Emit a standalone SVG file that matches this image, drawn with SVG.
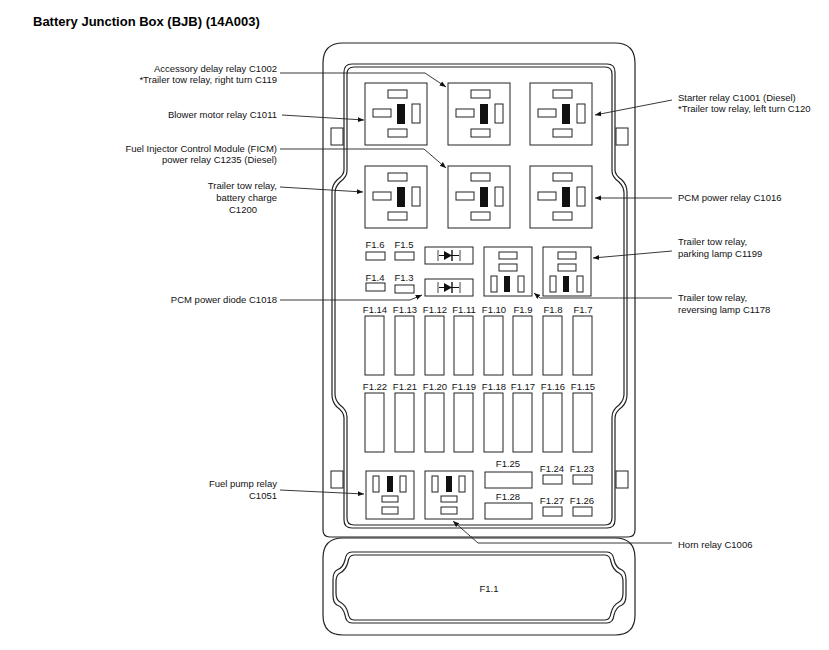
<svg xmlns="http://www.w3.org/2000/svg" width="829" height="650" viewBox="0 0 829 650">
<defs>
<style>
.l{font-family:"Liberation Sans",Arial,sans-serif;font-size:9.5px;fill:#111}
.f{font-family:"Liberation Sans",Arial,sans-serif;font-size:9.5px;fill:#111;text-anchor:middle}
.r{text-anchor:end}
.b{fill:#fff;stroke:#222;stroke-width:1}
.k{fill:#111}
.w{fill:none;stroke:#222;stroke-width:1.2}
.c{fill:none;stroke:#222;stroke-width:0.9;marker-end:url(#a)}
</style>
<marker id="a" viewBox="0 0 10 10" refX="10" refY="5" markerWidth="7" markerHeight="7" orient="auto"><path d="M0,1 L10,5 L0,9 z" fill="#111"/></marker>
<g id="relay">
<rect class="b" x="0" y="0" width="62" height="62"/>
<rect class="b" x="23" y="7" width="19" height="8"/>
<rect class="b" x="8" y="26" width="18" height="8"/>
<rect class="k" x="32" y="21" width="8" height="20"/>
<rect class="b" x="47" y="21" width="8" height="19"/>
<rect class="b" x="23" y="46" width="19" height="8"/>
</g>
<g id="srelay">
<rect class="b" x="0" y="0" width="48" height="49"/>
<rect class="b" x="15" y="5" width="18" height="7"/>
<rect class="b" x="15" y="17" width="18" height="7"/>
<rect class="b" x="7" y="29" width="6" height="16"/>
<rect class="k" x="20" y="29" width="6" height="16"/>
<rect class="b" x="34" y="29" width="6" height="16"/>
</g>
<g id="brelay">
<rect class="b" x="0" y="0" width="48" height="48"/>
<rect class="b" x="7" y="5" width="6" height="16"/>
<rect class="k" x="21" y="5" width="6" height="16"/>
<rect class="b" x="34" y="5" width="6" height="16"/>
<rect class="b" x="16" y="25" width="16" height="6"/>
<rect class="b" x="16" y="36" width="16" height="7"/>
</g>
<g id="diode">
<rect class="b" x="0" y="0" width="48" height="17"/>
<line x1="14" y1="8.5" x2="34" y2="8.5" stroke="#111"/>
<path d="M19,4 L27,8.5 L19,13 z" fill="#111"/>
<line x1="27" y1="3" x2="27" y2="14" stroke="#111" stroke-width="1.4"/>
<line x1="13" y1="3" x2="13" y2="14" stroke="#111" stroke-width="0.8"/>
<line x1="35" y1="3" x2="35" y2="14" stroke="#111" stroke-width="0.8"/>
</g>
</defs>
<rect width="829" height="650" fill="#fff"/>
<text x="33" y="26" font-family="Liberation Sans,Arial,sans-serif" font-size="13" font-weight="bold">Battery Junction Box (BJB) (14A003)</text>

<g id="housing">
<path class="w" d="M343,43 H615 Q635,43 635,63 V530 Q635,537 628,537 H330 Q323,537 323,530 V63 Q323,43 343,43 Z"/>
<path class="w" d="M352,64 H607 Q615,64 615,72 V170 Q615,175 622,180 Q627,185 627,192 V395 Q627,402 622,407 Q615,412 615,418 V520 Q615,528 607,528 H352 Q344,528 344,520 V418 Q344,412 337,407 Q332,402 332,395 V192 Q332,185 337,180 Q344,175 344,170 V72 Q344,64 352,64 Z"/>
<path class="w" d="M354,67 H605 Q612,67 612,74 V171 Q612,177 619,182 Q624,187 624,193 V394 Q624,400 619,405 Q612,410 612,417 V518 Q612,525 605,525 H354 Q347,525 347,518 V417 Q347,410 340,405 Q335,400 335,394 V193 Q335,187 340,182 Q347,177 347,171 V74 Q347,67 354,67 Z"/>
<rect class="b" x="331" y="128" width="12" height="17"/>
<rect class="b" x="616" y="128" width="12" height="17"/>
<rect class="b" x="331" y="471" width="12" height="17"/>
<rect class="b" x="616" y="471" width="12" height="17"/>
</g>

<g id="cover">
<path class="w" d="M343,538 H615 Q635,538 635,558 V615 Q635,635 615,635 H343 Q323,635 323,615 V558 Q323,538 343,538 Z"/>
<path class="w" d="M352,552 H607 Q613,552 614,560 Q616,568 622,570 Q626,572 626,580 V595 Q626,603 622,605 Q616,607 614,615 Q613,623 607,623 H352 Q346,623 345,615 Q343,607 337,605 Q333,603 333,595 V580 Q333,572 337,570 Q343,568 345,560 Q346,552 352,552 Z"/>
<path class="w" d="M354,555 H605 Q610,555 611,562 Q613,570 619,573 Q623,575 623,582 V593 Q623,600 619,602 Q613,605 611,613 Q610,620 605,620 H354 Q349,620 348,613 Q346,605 340,602 Q336,600 336,593 V582 Q336,575 340,573 Q346,570 348,562 Q349,555 354,555 Z"/>
<text class="f" x="489" y="592">F1.1</text>
</g>

<g id="relays">
<use href="#relay" x="365" y="83"/>
<use href="#relay" x="448" y="83"/>
<use href="#relay" x="530" y="83"/>
<use href="#relay" x="365" y="166"/>
<use href="#relay" x="448" y="166"/>
<use href="#relay" x="530" y="166"/>
<use href="#srelay" x="484" y="247"/>
<use href="#srelay" x="543" y="247"/>
<use href="#brelay" x="366" y="471"/>
<use href="#brelay" x="425" y="471"/>
<use href="#diode" x="425" y="247"/>
<use href="#diode" x="425" y="279"/>
</g>

<g id="smallfuses">
<text class="f" x="375" y="248">F1.6</text><rect class="b" x="366" y="252" width="19" height="8"/>
<text class="f" x="404" y="248">F1.5</text><rect class="b" x="395" y="252" width="19" height="8"/>
<text class="f" x="375" y="281">F1.4</text><rect class="b" x="366" y="283" width="19" height="8"/>
<text class="f" x="404" y="281">F1.3</text><rect class="b" x="395" y="285" width="19" height="8"/>
<text class="f" x="508" y="467">F1.25</text><rect class="b" x="485" y="472" width="47" height="16"/>
<text class="f" x="508" y="500">F1.28</text><rect class="b" x="485" y="503" width="47" height="16"/>
<text class="f" x="552" y="472">F1.24</text><rect class="b" x="543" y="475" width="19" height="9"/>
<text class="f" x="582" y="472">F1.23</text><rect class="b" x="573" y="475" width="19" height="9"/>
<text class="f" x="552" y="504">F1.27</text><rect class="b" x="543" y="507" width="19" height="9"/>
<text class="f" x="582" y="504">F1.26</text><rect class="b" x="573" y="507" width="19" height="9"/>
</g>

<g id="fuses">
<text class="f" x="375" y="313">F1.14</text><rect class="b" x="365" y="316" width="19" height="59"/>
<text class="f" x="405" y="313">F1.13</text><rect class="b" x="395" y="316" width="19" height="59"/>
<text class="f" x="435" y="313">F1.12</text><rect class="b" x="425" y="316" width="19" height="59"/>
<text class="f" x="464" y="313">F1.11</text><rect class="b" x="454" y="316" width="19" height="59"/>
<text class="f" x="494" y="313">F1.10</text><rect class="b" x="484" y="316" width="19" height="59"/>
<text class="f" x="523" y="313">F1.9</text><rect class="b" x="513" y="316" width="19" height="59"/>
<text class="f" x="553" y="313">F1.8</text><rect class="b" x="543" y="316" width="19" height="59"/>
<text class="f" x="583" y="313">F1.7</text><rect class="b" x="573" y="316" width="19" height="59"/>
<text class="f" x="375" y="390">F1.22</text><rect class="b" x="365" y="393" width="19" height="59"/>
<text class="f" x="405" y="390">F1.21</text><rect class="b" x="395" y="393" width="19" height="59"/>
<text class="f" x="435" y="390">F1.20</text><rect class="b" x="425" y="393" width="19" height="59"/>
<text class="f" x="464" y="390">F1.19</text><rect class="b" x="454" y="393" width="19" height="59"/>
<text class="f" x="494" y="390">F1.18</text><rect class="b" x="484" y="393" width="19" height="59"/>
<text class="f" x="523" y="390">F1.17</text><rect class="b" x="513" y="393" width="19" height="59"/>
<text class="f" x="553" y="390">F1.16</text><rect class="b" x="543" y="393" width="19" height="59"/>
<text class="f" x="583" y="390">F1.15</text><rect class="b" x="573" y="393" width="19" height="59"/>
</g>

<g id="connectors">
<path class="c" d="M280,73 H425 L446,87"/>
<path class="c" d="M282,115 L364,120"/>
<path class="c" d="M280,149 H424 L446,168"/>
<path class="c" d="M280,187 L363,192"/>
<path class="c" d="M280,300 H410 L422,295"/>
<path class="c" d="M280,490 L364,494"/>
<path class="c" d="M672,100 L595,115"/>
<path class="c" d="M672,198 H595"/>
<path class="c" d="M672,251 L593,258"/>
<path class="c" d="M672,298 H540 L534,293"/>
<path class="c" d="M672,543 H478 L453,521"/>
</g>

<g id="labels">
<text class="l r" x="277" y="72">Accessory delay relay C1002</text>
<text class="l r" x="277" y="83">*Trailer tow relay, right turn C119</text>
<text class="l r" x="277" y="118">Blower motor relay C1011</text>
<text class="l r" x="277" y="152">Fuel Injector Control Module (FICM)</text>
<text class="l r" x="277" y="163">power relay C1235 (Diesel)</text>
<text class="l r" x="277" y="189">Trailer tow relay,</text>
<text class="l r" x="277" y="201">battery charge</text>
<text class="l" x="229" y="213">C1200</text>
<text class="l r" x="277" y="303">PCM power diode C1018</text>
<text class="l r" x="277" y="487">Fuel pump relay</text>
<text class="l r" x="277" y="499">C1051</text>
<text class="l" x="678" y="101">Starter relay C1001 (Diesel)</text>
<text class="l" x="678" y="112">*Trailer tow relay, left turn C120</text>
<text class="l" x="678" y="201">PCM power relay C1016</text>
<text class="l" x="678" y="245">Trailer tow relay,</text>
<text class="l" x="678" y="257">parking lamp C1199</text>
<text class="l" x="678" y="301">Trailer tow relay,</text>
<text class="l" x="678" y="313">reversing lamp C1178</text>
<text class="l" x="678" y="548">Horn relay C1006</text>
</g>
</svg>
